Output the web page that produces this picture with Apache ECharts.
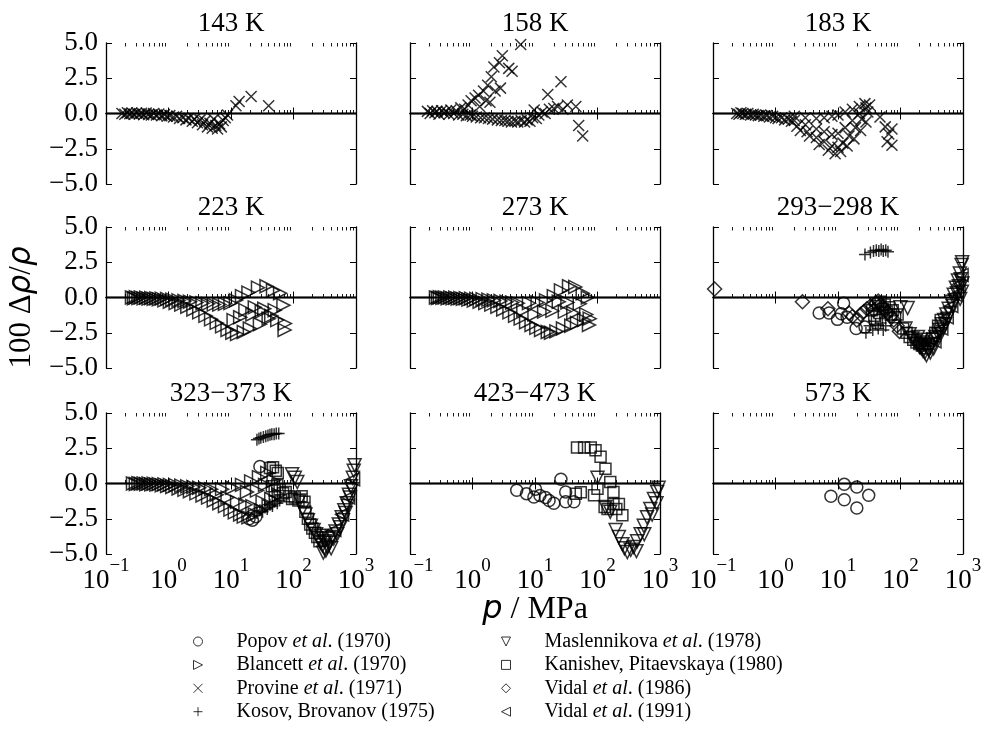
<!DOCTYPE html>
<html><head><meta charset="utf-8">
<script src="https://cdn.jsdelivr.net/npm/echarts@6/dist/echarts.min.js"></script>
<style>html,body{margin:0;padding:0;background:#fff}#c{width:982px;height:751px}</style>
</head><body><div id="c"></div>
<script>
// ---------------- DATA ----------------
const panelTitles = ['143 K','158 K','183 K','223 K','273 K','293\u2212298 K','323\u2212373 K','423\u2212473 K','573 K'];
const sourceNames = ['Popov et al. (1970)','Blancett et al. (1970)','Provine et al. (1971)','Kosov, Brovanov (1975)',
  'Maslennikova et al. (1978)','Kanishev, Pitaevskaya (1980)','Vidal et al. (1986)','Vidal et al. (1991)'];
const xMajorTicks = [0.1, 1, 10, 100, 1000];
const xMinorTicks = [0.2,0.3,0.4,0.5,0.6,0.7,0.8,0.9,2,3,4,5,6,7,8,9,20,30,40,50,60,70,80,90,200,300,400,500,600,700,800,900];
const yTicks = [-5, -2.5, 0, 2.5, 5];

// [p / MPa, 100 Δρ/ρ]
const provine143 = [[0.18,0.0],[0.2,-0.05],[0.22,0.05],[0.24,-0.02],[0.26,0.03],[0.28,-0.05],[0.31,0.04],[0.34,-0.04],[0.37,0.02],[0.4,-0.08],[0.44,0.03],[0.48,-0.06],[0.53,-0.1],[0.58,0.0],[0.64,-0.1],[0.7,-0.04],[0.78,-0.15],[0.86,-0.08],[0.95,-0.2],[1.05,-0.15],[1.2,-0.25],[1.35,-0.2],[1.5,-0.35],[1.7,-0.3],[1.9,-0.45],[2.1,-0.35],[2.4,-0.55],[2.6,-0.4],[2.9,-0.65],[3.2,-0.45],[3.5,-0.8],[3.8,-0.55],[4.2,-0.95],[4.6,-0.7],[5.0,-1.05],[5.3,-0.4],[5.7,-0.85],[6.1,-1.1],[6.6,-0.75],[7.0,-0.95],[7.5,-0.5],[8.1,-0.3],[8.8,-0.1],[12,0.55],[13.5,0.85],[21,1.2],[40,0.55]];
const provine158 = [[0.19,0.15],[0.21,0.0],[0.23,0.2],[0.25,0.05],[0.27,0.15],[0.29,-0.05],[0.32,0.2],[0.35,0.05],[0.38,0.15],[0.42,-0.05],[0.45,0.25],[0.5,0.0],[0.55,0.2],[0.6,-0.1],[0.65,0.4],[0.7,-0.05],[0.75,0.3],[0.8,-0.15],[0.85,0.6],[0.92,-0.1],[0.95,0.9],[1.0,-0.2],[1.1,1.1],[1.15,-0.25],[1.25,1.3],[1.3,0.5],[1.35,-0.3],[1.5,1.6],[1.55,-0.3],[1.65,0.9],[1.75,2.0],[1.8,-0.35],[1.9,0.8],[2.0,2.6],[2.1,-0.4],[2.2,3.3],[2.3,1.6],[2.5,-0.45],[2.7,3.6],[2.8,1.8],[2.9,-0.5],[3.0,4.1],[3.3,-0.5],[3.7,-0.55],[3.8,3.2],[4.2,-0.6],[4.3,3.0],[4.8,-0.55],[5.3,-0.6],[5.9,4.9],[6.0,-0.5],[6.8,-0.6],[7.5,-0.45],[8.3,-0.55],[9.2,-0.3],[9.7,0.25],[10.5,-0.35],[11.5,-0.1],[13,0.1],[14.5,0.0],[16,1.35],[17,0.3],[20,0.35],[23,0.5],[26,2.25],[28,0.3],[33,0.6],[45,0.5],[50,-0.85],[58,-1.6]];
const provine183 = [[0.24,0.0],[0.26,-0.05],[0.28,0.05],[0.3,0.0],[0.33,-0.05],[0.36,0.0],[0.4,-0.1],[0.44,-0.05],[0.48,-0.1],[0.53,-0.15],[0.58,-0.1],[0.65,-0.2],[0.72,-0.15],[0.8,-0.25],[0.9,-0.2],[1.0,-0.3],[1.1,-0.35],[1.25,-0.3],[1.4,-0.45],[1.6,-0.4],[1.8,-0.55],
  [2,-0.2],[3,-0.3],[4.5,-0.35],[6,-0.3],[8,-0.2],[10,-0.1],[13,0.1],[17,0.3],[22,0.5],[27,0.7],[32,0.6],
  [2,-0.5],[3,-0.8],[4.5,-1.1],[6,-1.3],[8,-1.5],[10,-1.4],[13,-1.0],[17,-0.5],[22,0.0],[28,0.4],
  [2.2,-0.9],[3.2,-1.3],[4.5,-1.7],[6,-2.0],[8,-2.3],[10,-2.4],[12,-2.1],[15,-1.6],[19,-1.0],[24,-0.4],[30,0.1],
  [2.5,-1.2],[3.5,-1.6],[5,-2.2],[7,-2.6],[9,-2.85],[11,-2.7],[14,-2.3],[18,-1.8],[23,-1.2],[28,-0.6],
  [47,-0.25],[57,-0.95],[65,-1.45],[73,-1.1],[61,-2.0],[73,-2.25]];
const blancett223 = [[0.26,0.0],[0.28,-0.05],[0.3,0.02],[0.33,-0.04],[0.36,0.0],[0.4,-0.06],[0.44,-0.02],[0.48,-0.08],[0.53,-0.04],[0.58,-0.1],[0.64,-0.06],[0.7,-0.12],[0.78,-0.08],[0.86,-0.2],[0.95,-0.1],[1.05,-0.3],[1.15,-0.15],[1.3,-0.4],[1.45,-0.2],[1.6,-0.5],[1.8,-0.25],[2.0,-0.65],[2.2,-0.3],[2.5,-0.85],[2.8,-0.35],[3.1,-1.05],[3.5,-0.4],[3.9,-1.3],[4.3,-0.45],[4.8,-1.55],[5.3,-0.5],[5.9,-1.8],[6.5,-0.5],[7.2,-2.05],[8,-0.45],[8.8,-2.3],[9.8,-0.4],[10.5,-2.5],[11,-1.6],[12,-0.2],[12.5,-2.6],[14,-1.4],[15,0.1],[16,-2.45],[17,-0.9],[19,0.35],[20,-2.2],[22,-1.2],[24,-0.7],[27,0.7],[29,-1.9],[31,-1.0],[34,-0.8],[37,0.8],[40,-1.5],[44,-1.3],[47,0.5],[50,-0.9],[55,-1.6],[61,0.3],[69,-0.55],[73,-1.85],[72,-2.3]];
const blancett273 = [[0.26,0.0],[0.28,-0.03],[0.3,0.02],[0.33,-0.02],[0.36,0.0],[0.4,-0.05],[0.44,0.0],[0.48,-0.06],[0.53,-0.02],[0.58,-0.08],[0.64,-0.04],[0.7,-0.1],[0.78,-0.05],[0.86,-0.15],[0.95,-0.08],[1.05,-0.22],[1.15,-0.1],[1.3,-0.3],[1.45,-0.12],[1.6,-0.4],[1.8,-0.15],[2.0,-0.5],[2.2,-0.2],[2.5,-0.65],[2.8,-0.25],[3.1,-0.85],[3.5,-0.3],[3.9,-1.05],[4.3,-0.35],[4.8,-1.3],[5.3,-0.4],[5.9,-1.5],[6.5,-0.9],[7.2,-1.75],[8,-0.4],[8.8,-1.95],[9.8,-1.2],[10.5,-2.15],[11,-0.35],[12.5,-2.3],[14,-1.0],[15,-0.2],[16,-2.45],[18,-2.5],[19,-0.95],[20,0.1],[22,-2.4],[24,-0.3],[26,0.5],[28,-2.2],[30,-1.0],[33,-0.35],[35,0.8],[38,-2.0],[41,-1.1],[44,0.75],[47,-1.8],[52,-0.45],[58,0.3],[61,-1.6],[66,-1.2],[70,0.0],[73,-1.95],[75,-1.5]];
const popov293 = [[5.0,-1.1],[7.2,-1.1],[9.8,-1.55],[11.3,-1.15],[12.3,-0.4],[14,-1.4],[19.5,-2.2],[27,-2.1]];
const kosov293 = [[27,3.05],[33,3.2],[37,3.3],[41,3.35],[45,3.3],[49,3.4],[53,3.3],[58,3.35],[63,3.25],[28,-2.5],[32,-2.0],[36,-2.3],[40,-1.9],[44,-2.2],[48,-1.8],[53,-2.3],[58,-2.0]];
const masl293 = [[100,-0.7],[130,-0.75],[120,-2.2],[140,-2.6],[155,-2.9],[170,-3.1],[185,-3.3],[200,-3.5],[215,-3.6],[230,-3.8],[245,-3.9],[260,-4.1],[280,-3.7],[300,-3.5],[320,-3.3],[340,-3.0],[360,-2.8],[380,-2.9],[400,-2.6],[420,-2.3],[440,-2.6],[460,-1.9],[480,-2.2],[500,-1.6],[520,-1.9],[540,-1.2],[560,-1.5],[590,-0.8],[620,-1.1],[650,-0.3],[680,-0.6],[710,0.2],[740,-0.2],[770,0.7],[800,0.3],[830,1.2],[860,0.8],[890,1.7],[920,1.3],[950,2.3],[970,2.5],[980,1.0],[960,0.4],[900,-0.1],[340,-3.6],[300,-3.9],[250,-3.4],[230,-3.2],[210,-3.0],[190,-2.8]];
const kanishev293 = [[35,-0.9],[38,-1.3],[40,-0.4],[42,-1.6],[44,-0.6],[46,-1.1],[48,-0.3],[52,-0.8],[56,-0.5],[60,-1.0],[65,-0.7],[70,-1.2],[75,-0.9],[82,-1.4],[90,-1.2],[110,-2.2],[125,-2.5],[140,-2.8],[160,-3.0],[180,-3.2],[200,-3.3],[220,-3.4],[250,-3.6],[280,-3.3],[320,-2.9],[360,-2.5],[400,-2.0],[440,-1.6]];
const vidal86_293 = [[0.106,0.6],[2.7,-0.3],[6.9,-0.8],[15,-1.1],[17,-1.35],[20,-1.6],[23,-1.2],[26,-1.0],[29,-0.8],[33,-0.6],[37,-0.9],[40,-0.4],[44,-0.25],[48,-0.5],[52,-0.7],[57,-0.9],[63,-1.1],[70,-1.3],[78,-1.6],[88,-2.0],[96,-2.4]];
const vidal91_293 = [[350,-3.1],[450,-2.2],[550,-1.4],[650,-0.6],[750,0.2],[850,0.9],[950,1.6]];
const popov323 = [[29,1.2],[19.5,-2.5],[22,-2.6],[25,-2.35]];
const blancett323 = [[0.27,0.0],[0.3,-0.03],[0.33,0.02],[0.36,-0.02],[0.4,0.0],[0.44,-0.05],[0.48,0.0],[0.53,-0.06],[0.58,-0.02],[0.64,-0.08],[0.7,-0.04],[0.78,-0.12],[0.86,-0.06],[0.95,-0.18],[1.05,-0.1],[1.15,-0.25],[1.3,-0.12],[1.45,-0.35],[1.6,-0.15],[1.8,-0.45],[2.0,-0.2],[2.2,-0.55],[2.5,-0.25],[2.8,-0.7],[3.1,-0.3],[3.5,-0.85],[3.9,-0.35],[4.3,-1.0],[4.8,-0.4],[5.3,-1.2],[5.9,-0.8],[6.5,-1.4],[7.2,-0.4],[8,-1.6],[8.8,-1.0],[9.8,-1.85],[10.5,-0.3],[11.5,-2.05],[12.5,-1.3],[14,-2.2],[15,-0.1],[16,-2.35],[17,-1.5],[18,-0.6],[19,-2.4],[21,0.15],[22,-1.6],[24,-2.2],[26,-0.5],[28,0.45],[30,-1.9],[32,-1.3],[35,-0.1],[38,0.75],[40,-1.6],[44,-1.1],[48,0.2],[52,-1.3],[58,-0.8]];
const kosov323 = [[26,3.1],[28,3.2],[30,3.25],[33,3.3],[36,3.35],[39,3.4],[42,3.45],[45,3.5],[49,3.5],[53,3.55],[58,3.55],[26,-2.1],[29,-1.9],[32,-2.0],[35,-1.7],[38,-1.8],[42,-1.5],[46,-1.6],[50,-1.3],[55,-1.4],[60,-1.2]];
const masl323 = [[95,0.65],[105,0.4],[115,0.1],[125,-1.2],[140,-1.8],[155,-2.2],[170,-2.6],[190,-3.0],[210,-3.3],[230,-3.6],[250,-3.9],[270,-4.2],[290,-4.4],[310,-4.6],[330,-4.75],[350,-4.5],[380,-4.2],[410,-3.8],[440,-3.9],[470,-3.4],[500,-3.6],[530,-2.9],[560,-3.1],[590,-2.4],[620,-2.6],[650,-1.9],[680,-2.1],[710,-1.4],[740,-1.6],[770,-0.8],[800,-1.0],[830,-0.2],[860,-0.4],[890,0.4],[920,0.9],[950,1.3],[280,-3.7],[320,-4.1],[360,-3.9],[400,-4.6],[300,-4.9]];
const kanishev323 = [[42,1.1],[47,1.15],[52,0.9],[56,0.75],[45,-0.2],[50,-0.5],[55,-0.1],[60,-0.4],[68,-0.7],[75,-0.6],[85,-0.9],[95,-1.1],[105,-1.0],[120,-1.2],[135,-0.9],[150,-1.3],[155,-2.0],[170,-2.5],[185,-2.9],[200,-3.2],[220,-3.5],[240,-3.8],[260,-4.1]];
const vidal91_323 = [[450,-3.3],[600,-2.2],[750,-1.0],[900,0.3]];
const popov423 = [[5.1,-0.48],[7.3,-0.72],[9.6,-0.96],[10.2,-0.4],[12,-0.85],[14.7,-1.0],[16.8,-1.2],[20,-1.4],[26,0.3],[31,-0.6],[31,-1.3],[42,-1.3]];
const kanishev423 = [[47,2.55],[61,2.55],[78,2.55],[93,2.35],[112,1.9],[134,1.05],[160,0.1],[180,-0.6],[220,-1.45],[250,-2.25],[45,-0.72],[54,-0.62],[88,-0.84],[100,-0.37],[130,-1.67],[145,-1.8],[180,-1.45],[200,-1.8]];
const masl423 = [[100,0.41],[134,-1.67],[160,-2.0],[195,-3.3],[250,-4.3],[270,-4.6],[300,-4.86],[340,-4.7],[380,-4.5],[430,-4.1],[490,-3.6],[550,-3.0],[620,-2.4],[700,-1.8],[800,-1.1],[900,-0.6],[950,-0.3],[220,-3.8],[420,-4.8],[560,-3.6],[750,-2.2],[880,-1.4]];
const popov573 = [[7.7,-0.91],[12.6,-0.06],[12.6,-1.15],[20,-0.25],[20,-1.74],[31,-0.84]];

// panel index, source index, data
const panelSeries = [
  [0,2,provine143],[1,2,provine158],[2,2,provine183],
  [3,1,blancett223],[4,1,blancett273],
  [5,0,popov293],[5,3,kosov293],[5,4,masl293],[5,5,kanishev293],[5,6,vidal86_293],[5,7,vidal91_293],
  [6,0,popov323],[6,1,blancett323],[6,3,kosov323],[6,4,masl323],[6,5,kanishev323],[6,7,vidal91_323],
  [7,0,popov423],[7,4,masl423],[7,5,kanishev423],
  [8,0,popov573]
];

// ---------------- STYLE ----------------
const SERIF = 'Liberation Serif';
const markerSymbols = ['circle','path://M0,0L10,5L0,10Z','path://M0,0L10,10M0,10L10,0','path://M5,0L5,10M0,5L10,5',
  'path://M0,0L10,0L5,10Z','rect','diamond','path://M10,0L0,5L10,10Z'];
const markerSizes = [12,13,11,12,13,11,14,13];
const colLeft = [106,410,713], rowTop = [43,227,413], PW = 250, PH = 141;

function expText(v){ const e = Math.round(Math.log10(v)); return (e<0?'\u2212':'') + Math.abs(e); }

const grids=[], xAxes=[], yAxes=[], titles=[];
for (let i=0;i<9;i++){
  const r=Math.floor(i/3), c=i%3;
  const rect={left:colLeft[c], top:rowTop[r], width:PW, height:PH, containLabel:false, outerBoundsMode:'none'};
  grids[i]=rect; grids[9+i]=Object.assign({},rect);
  const lineStyle={color:'#000', width:1.3};
  const baseX={type:'log', logBase:10, min:0.1, max:1000, splitLine:{show:false}, minorTick:{show:false}};
  xAxes[i]=Object.assign({}, baseX, {gridIndex:i, position:'bottom',
    axisLine:{show:true, lineStyle}, axisTick:{show:true, inside:true, length:6, customValues:xMajorTicks, lineStyle:{color:'#000',width:1}},
    axisLabel:{show:r===2, customValues:xMajorTicks, margin:3, formatter:v=>'{b|10}{s|'+expText(v)+'}',
      rich:{b:{fontSize:27, fontFamily:SERIF, color:'#000'}, s:{fontSize:19, fontFamily:SERIF, color:'#000', padding:[0,0,28,0]}}}});
  xAxes[9+i]=Object.assign({}, baseX, {gridIndex:i, position:'top',
    axisLine:{show:true, lineStyle}, axisTick:{show:true, inside:true, length:6, customValues:xMajorTicks, lineStyle:{color:'#000',width:1}},
    axisLabel:{show:false}});
  xAxes[18+i]=Object.assign({}, baseX, {gridIndex:9+i, position:'bottom', axisLine:{show:false},
    axisTick:{show:true, inside:true, length:3.5, customValues:xMinorTicks, lineStyle:{color:'#000',width:0.9}}, axisLabel:{show:false}});
  xAxes[27+i]=Object.assign({}, baseX, {gridIndex:9+i, position:'top', axisLine:{show:false},
    axisTick:{show:true, inside:true, length:3.5, customValues:xMinorTicks, lineStyle:{color:'#000',width:0.9}}, axisLabel:{show:false}});
  const baseY={type:'value', min:-5, max:5, interval:2.5, splitLine:{show:false}};
  yAxes[i]=Object.assign({}, baseY, {gridIndex:i, position:'left', axisLine:{show:true, lineStyle},
    axisTick:{show:true, inside:true, length:6, lineStyle:{color:'#000',width:1}},
    axisLabel:{show:c===0, margin:8, fontSize:27, fontFamily:SERIF, color:'#000',
      formatter:v=>(v<0?'\u2212':'')+Math.abs(v).toFixed(1)}});
  yAxes[9+i]=Object.assign({}, baseY, {gridIndex:i, position:'right', axisLine:{show:true, lineStyle},
    axisTick:{show:true, inside:true, length:6, lineStyle:{color:'#000',width:1}}, axisLabel:{show:false}});
  yAxes[18+i]=Object.assign({}, baseY, {gridIndex:9+i, show:false});
  titles.push({text:panelTitles[i], left:colLeft[c]+PW/2, top:rowTop[r]-33, textAlign:'center', padding:0,
    textStyle:{fontSize:27, fontWeight:'normal', fontFamily:SERIF, color:'#000'}});
}
// axis names
yAxes[3].name='{n|100 \u0394}{g|\u03c1}{n|/}{g|\u03c1}';
yAxes[3].nameLocation='middle'; yAxes[3].nameGap=69; yAxes[3].nameMoveOverlap=false;
yAxes[3].nameTextStyle={padding:[0,20,0,0], rich:{n:{fontSize:31,fontFamily:SERIF,color:'#000'}, g:{fontSize:31,fontFamily:'DejaVu Sans',fontStyle:'italic',color:'#000'}}};
xAxes[7].name='{g|p}{n| / MPa}';
xAxes[7].nameLocation='middle'; xAxes[7].nameGap=40; xAxes[7].nameMoveOverlap=false;
xAxes[7].nameTextStyle={rich:{n:{fontSize:32,fontFamily:SERIF,color:'#000'}, g:{fontSize:32,fontFamily:'DejaVu Sans',fontStyle:'italic',color:'#000'}}};

const panelHasZero = {};
const series = panelSeries.map(([pi,si,data])=>{
  const s = {type:'scatter', name:sourceNames[si], xAxisIndex:pi, yAxisIndex:pi, data:data,
    symbol:markerSymbols[si], symbolSize:markerSizes[si],
    itemStyle:{color:'transparent', borderColor:'#000', borderWidth:1.5},
    emphasis:{disabled:true}, silent:true};
  if(!panelHasZero[pi]){
    panelHasZero[pi]=true;
    s.markLine={silent:true, symbol:'none', label:{show:false}, lineStyle:{color:'#000', width:1.3, type:'solid'}, data:[{yAxis:0}]};
  }
  return s;
});

function legendFmt(n){ return n.replace('et al.', '{i|et al}.'); }
const legendText = {fontSize:20, fontFamily:SERIF, color:'#000', lineHeight:23, padding:[0,0,0,29],
  rich:{i:{fontSize:20, fontFamily:SERIF, fontStyle:'italic', color:'#000', lineHeight:23}}};
const legends = [
  {data:sourceNames.slice(0,4), left:193, top:630},
  {data:sourceNames.slice(4), left:501, top:630}
].map(l=>Object.assign(l,{orient:'vertical', itemWidth:9, itemHeight:9, itemGap:0.4, selectedMode:false,
  formatter:legendFmt, textStyle:legendText, itemStyle:{borderWidth:1}, padding:0}));

const chart = echarts.init(document.getElementById('c'), null, {renderer:'canvas', width:982, height:751});
chart.setOption({
  animation:false, backgroundColor:'#fff',
  textStyle:{fontFamily:SERIF},
  title:titles, grid:grids, xAxis:xAxes, yAxis:yAxes, legend:legends, series:series
});
</script></body></html>
